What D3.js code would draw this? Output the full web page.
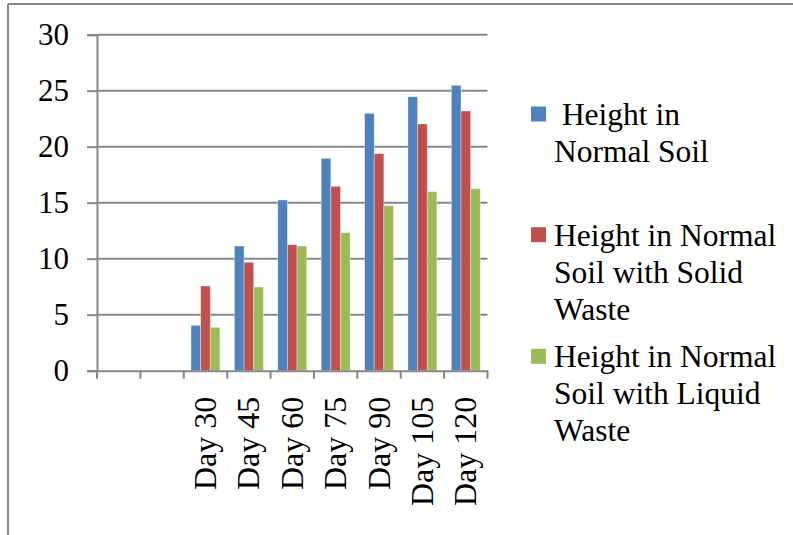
<!DOCTYPE html>
<html>
<head>
<meta charset="utf-8">
<script src="https://cdn.jsdelivr.net/npm/d3@7"></script>
<style>
  html, body { margin: 0; padding: 0; background: #fff; }
  svg { display: block; }
  text { font-family: "Liberation Serif", "Times New Roman", Times, serif; fill: #000; }
</style>
</head>
<body>
<svg id="chart" width="793" height="535"></svg>
<script>
const categories = ["", " ", "Day 30", "Day 45", "Day 60", "Day 75", "Day 90", "Day 105", "Day 120"];
const seriesNames = ["Normal", "Solid", "Liquid"];
const normalSoil = [null, null, 4.05, 11.13, 15.24, 18.96, 22.98, 24.46, 25.48];
const solidWaste = [null, null, 7.56, 9.68, 11.25, 16.46, 19.38, 22.03, 23.19];
const liquidWaste = [null, null, 3.87, 7.47, 11.13, 12.32, 14.73, 15.98, 16.25];
const yTicks = [0, 5, 10, 15, 20, 25, 30];
const legendLabels = [
  [" Height in", "Normal Soil"],
  ["Height in Normal", "Soil with Solid", "Waste"],
  ["Height in Normal", "Soil with Liquid", "Waste"]
];
const colors = ["#4F81BD", "#C0504D", "#9BBB59"];

const svg = d3.select("#chart");
const plot = { left: 97, right: 487.5, top: 34.7, bottom: 370.7 };
const gray = "#878787";
const serif = "'Liberation Serif', 'Times New Roman', Times, serif";

// outer frame (cut at right/bottom)
svg.append("line").attr("x1", 8).attr("x2", 793).attr("y1", 4).attr("y2", 4)
  .attr("stroke", gray).attr("stroke-width", 2);
svg.append("line").attr("x1", 8).attr("x2", 8).attr("y1", 4).attr("y2", 535)
  .attr("stroke", gray).attr("stroke-width", 2);

const x = d3.scaleBand().domain(categories).range([plot.left, plot.right]).paddingInner(0).paddingOuter(0);
const y = d3.scaleLinear().domain([0, 30]).range([plot.bottom, plot.top]);
const groupW = x.bandwidth() * 3 / 4.5;
const xs = d3.scaleBand().domain(seriesNames).range([0, groupW]);

// gridlines
svg.append("g").selectAll("line").data(yTicks.filter(d => d > 0)).join("line")
  .attr("x1", plot.left).attr("x2", plot.right)
  .attr("y1", d => y(d)).attr("y2", d => y(d))
  .attr("stroke", gray).attr("stroke-width", 2);

// bars
const allSeries = [normalSoil, solidWaste, liquidWaste];
allSeries.forEach((vals, si) => {
  svg.append("g").selectAll("rect")
    .data(categories.map((c, i) => ({ c, v: vals[i] })).filter(d => d.v != null))
    .join("rect")
    .attr("x", d => x(d.c) + (x.bandwidth() - groupW) / 2 + xs(seriesNames[si]))
    .attr("width", xs.bandwidth())
    .attr("y", d => y(d.v))
    .attr("height", d => y(0) - y(d.v))
    .attr("fill", colors[si])
    .attr("stroke", "rgba(255,255,255,0.45)")
    .attr("stroke-width", 0.8);
});

// y axis
const yAxis = d3.axisLeft(y).tickValues(yTicks).tickSize(10).tickPadding(18).tickFormat(d3.format("d"));
const gy = svg.append("g").attr("transform", `translate(${plot.left},0)`).call(yAxis);
gy.attr("font-family", serif);
gy.select(".domain").attr("stroke", gray).attr("stroke-width", 2);
gy.selectAll(".tick line").attr("stroke", gray).attr("stroke-width", 2);
gy.selectAll(".tick text").attr("font-size", 31).attr("fill", "#000");

// x axis
const xAxis = d3.axisBottom(x).tickSize(0).tickFormat("");
const gx = svg.append("g").attr("transform", `translate(0,${plot.bottom})`).call(xAxis);
gx.attr("font-family", serif);
gx.select(".domain").attr("stroke", gray).attr("stroke-width", 2);
gx.selectAll(".tick").remove();
// boundary tick marks
const bounds = categories.map(c => x(c)).concat([plot.right]);
gx.append("g").selectAll("line").data(bounds).join("line")
  .attr("x1", d => d).attr("x2", d => d).attr("y1", 0).attr("y2", 8)
  .attr("stroke", gray).attr("stroke-width", 2);
// rotated labels
gx.append("g").selectAll("text").data(categories.filter(c => c.trim() !== "")).join("text")
  .attr("transform", d => `translate(${x(d) + x.bandwidth() / 2},26) rotate(-90)`)
  .attr("text-anchor", "end")
  .attr("dy", "0.33em")
  .attr("font-size", 32)
  .text(d => d);

// legend
const legendY = [125, 245.7, 367.3];
const lg = svg.append("g");
legendLabels.forEach((lines, i) => {
  lg.append("rect").attr("x", 531).attr("y", legendY[i] - 18.5).attr("width", 15).attr("height", 15)
    .attr("fill", colors[i]);
  const t = lg.append("text").attr("x", 554).attr("y", legendY[i]).attr("font-size", 31.5)
    .style("white-space", "pre");
  lines.forEach((ln, j) => {
    t.append("tspan").attr("x", 554).attr("dy", j === 0 ? 0 : 37).text(ln);
  });
});
</script>
</body>
</html>
